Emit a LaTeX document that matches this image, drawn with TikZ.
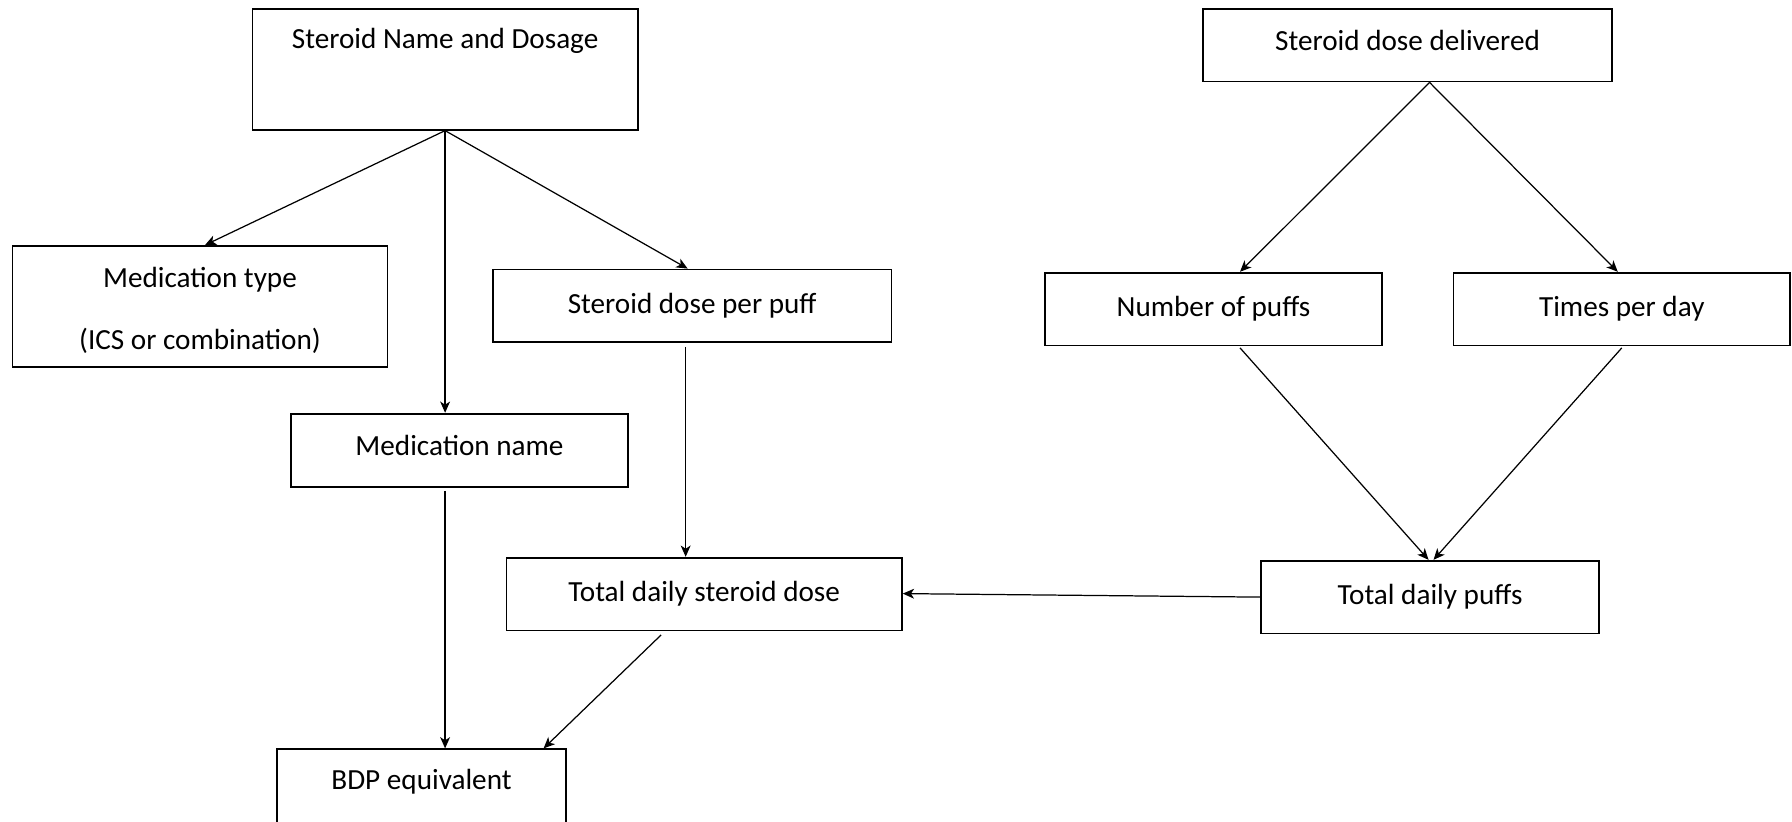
\documentclass[tikz,border=0pt]{standalone}
\usepackage{fontspec}
\setmainfont{Carlito}
\usetikzlibrary{arrows.meta}
\tikzset{
  box/.style={draw=black, line width=0.5pt, inner sep=0pt, fill=white,
    font=\fontsize{8.3pt}{17.07pt}\selectfont, align=center},
  lbl/.style={inner sep=0pt, font=\fontsize{8.3pt}{17.4pt}\selectfont, align=center},
  arr/.style={draw=black, line width=0.35pt, -{Stealth[length=3.2pt,width=2.8pt,inset=0.9pt]}}
}
\begin{document}
\begin{tikzpicture}[x=0.01cm,y=-0.01cm]
\clip (0,0) rectangle (1792,821);
\fill[white] (0,0) rectangle (1792,821);
% boxes
\node[box, minimum width=3.848cm, minimum height=1.207cm] (sn) at (445.1,69.35) {};
\node[lbl] (snt) at (445.1,41) {Steroid Name and Dosage};
\node[box, minimum width=3.75cm, minimum height=1.207cm] (mt) at (200,306.35) {};
\node[lbl] (mtt) at ([yshift=-0.04cm]mt.center) {Medication type\\(ICS or combination)};
\node[box, minimum width=3.985cm, minimum height=0.725cm] (sdpp) at (692.15,305.75) {Steroid dose per puff};
\node[box, minimum width=4.09cm, minimum height=0.725cm] (sdd) at (1407.5,45.25) {};
\node[lbl] (sddt) at ([yshift=0.045cm]sdd.center) {Steroid dose delivered};
\node[box, minimum width=3.37cm, minimum height=0.728cm] (np) at (1213.5,309.1) {Number of puffs};
\node[box, minimum width=3.365cm, minimum height=0.728cm] (tpd) at (1621.75,309.1) {Times per day};
\node[box, minimum width=3.37cm, minimum height=0.733cm] (mn) at (459.5,450.35) {};
\node[lbl] (mnt) at ([yshift=0.045cm]mn.center) {Medication name};
\node[box, minimum width=3.953cm, minimum height=0.728cm] (tds) at (704.15,594.1) {Total daily steroid dose};
\node[box, minimum width=3.38cm, minimum height=0.728cm] (tdp) at (1430,597.1) {Total daily puffs};
\node[box, minimum width=2.89cm, minimum height=1.20cm] (bdp) at (421.5,809.3) {};
\node[lbl] (bdpt) at (421.5,782) {BDP equivalent};
% connectors
\draw[arr] (sn.south) -- ([xshift=0.05cm]mt.north);
\draw[arr] (sn.south) -- (sn.south |- mn.north);
\draw[arr] (sn.south) -- ([xshift=-0.045cm]sdpp.north);
\draw[arr] ([xshift=0.22cm]sdd.south) -- ([xshift=0.265cm]np.north);
\draw[arr] ([xshift=0.22cm]sdd.south) -- ([xshift=-0.04cm]tpd.north);
\draw[arr] ([xshift=0.265cm,yshift=-0.015cm]np.south) -- ([xshift=-0.015cm]tdp.north);
\draw[arr] ([yshift=-0.015cm]tpd.south) -- ([xshift=0.035cm]tdp.north);
\draw[arr] ([xshift=-0.065cm,yshift=-0.04cm]sdpp.south) -- ([xshift=-0.065cm]sdpp.south |- tds.north);
\draw[arr] (tdp.west) -- ([yshift=0.005cm]tds.east);
\draw[arr] ([yshift=-0.03cm]sn.south |- mn.south) -- (sn.south |- bdp.north);
\draw[arr] ([xshift=-0.43cm,yshift=-0.035cm]tds.south) -- ([xshift=1.22cm]bdp.north);
\end{tikzpicture}
\end{document}
